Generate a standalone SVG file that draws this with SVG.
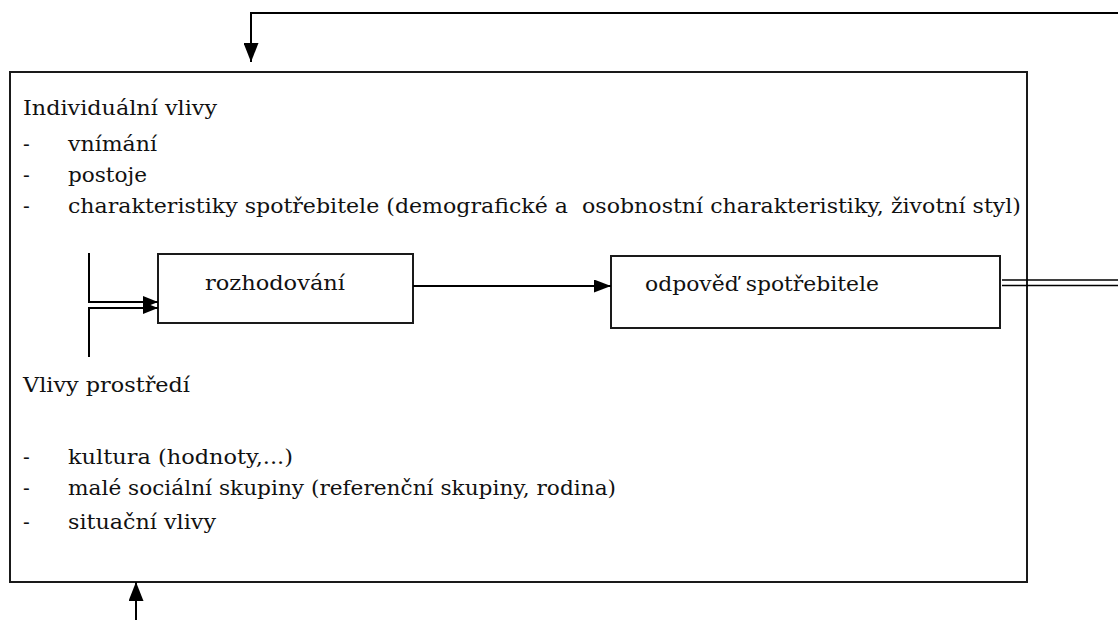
<svg xmlns="http://www.w3.org/2000/svg" width="1118" height="620" viewBox="0 0 1118 620">
<style>
.box{fill:none;stroke:#1a1a1a;stroke-width:2}
.ln{fill:none;stroke:#000;stroke-width:2}
.t{font-family:"DejaVu Serif","Liberation Serif","Times New Roman",serif;font-size:20px;fill:#111}
</style>
<defs>
<marker id="ahBig" markerUnits="userSpaceOnUse" markerWidth="19" markerHeight="15" refX="19" refY="7.5" orient="auto">
<path d="M0,0 L19,7.5 L0,15 Z" fill="#000"/>
</marker>
<marker id="ahMid" markerUnits="userSpaceOnUse" markerWidth="17" markerHeight="13" refX="17" refY="6.5" orient="auto">
<path d="M0,0 L17,6.5 L0,13 Z" fill="#000"/>
</marker>
<marker id="ahSmall" markerUnits="userSpaceOnUse" markerWidth="15" markerHeight="12" refX="15" refY="6" orient="auto">
<path d="M0,0 L15,6 L0,12 Z" fill="#000"/>
</marker>
</defs>
<rect width="1118" height="620" fill="#fff"/>

<g id="node-influences">
<rect class="box" x="10" y="72" width="1017" height="510"/>
<text class="t" x="23" y="115" textLength="194" lengthAdjust="spacingAndGlyphs">Individuální vlivy</text>
<text class="t" x="23" y="151">-</text>
<text class="t" x="68" y="151" textLength="89" lengthAdjust="spacingAndGlyphs">vnímání</text>
<text class="t" x="23" y="182">-</text>
<text class="t" x="68" y="182" textLength="79" lengthAdjust="spacingAndGlyphs">postoje</text>
<text class="t" x="23" y="213">-</text>
<text class="t" x="68" y="213" xml:space="preserve" style="white-space:pre" textLength="953" lengthAdjust="spacingAndGlyphs">charakteristiky spotřebitele (demografické a  osobnostní charakteristiky, životní styl)</text>
<text class="t" x="23" y="392" textLength="167" lengthAdjust="spacingAndGlyphs">Vlivy prostředí</text>
<text class="t" x="23" y="464">-</text>
<text class="t" x="68" y="464" textLength="225" lengthAdjust="spacingAndGlyphs">kultura (hodnoty,...)</text>
<text class="t" x="23" y="495">-</text>
<text class="t" x="68" y="495" textLength="548" lengthAdjust="spacingAndGlyphs">malé sociální skupiny (referenční skupiny, rodina)</text>
<text class="t" x="23" y="529">-</text>
<text class="t" x="68" y="529" textLength="148" lengthAdjust="spacingAndGlyphs">situační vlivy</text>
</g>

<g id="node-rozhodovani">
<rect class="box" x="158" y="254" width="255" height="69"/>
<text class="t" x="205" y="290" textLength="140" lengthAdjust="spacingAndGlyphs">rozhodování</text>
</g>

<g id="node-odpoved">
<rect class="box" x="611" y="256" width="389" height="72"/>
<text class="t" x="645" y="291" textLength="234" lengthAdjust="spacingAndGlyphs">odpověď spotřebitele</text>
</g>

<g id="connectors">
<path class="ln" d="M1118,13 H251 V62" marker-end="url(#ahBig)"/>
<path class="ln" d="M136,620 V582" marker-end="url(#ahBig)"/>
<path class="ln" d="M413,286 H611" marker-end="url(#ahMid)"/>
<path class="ln" d="M89,253 V302 H158" marker-end="url(#ahSmall)"/>
<path class="ln" d="M89,357 V308 H158" marker-end="url(#ahSmall)"/>
<path class="ln" style="stroke-width:1.6" d="M1002,280 H1118 M1002,285.5 H1118"/>
</g>
</svg>
